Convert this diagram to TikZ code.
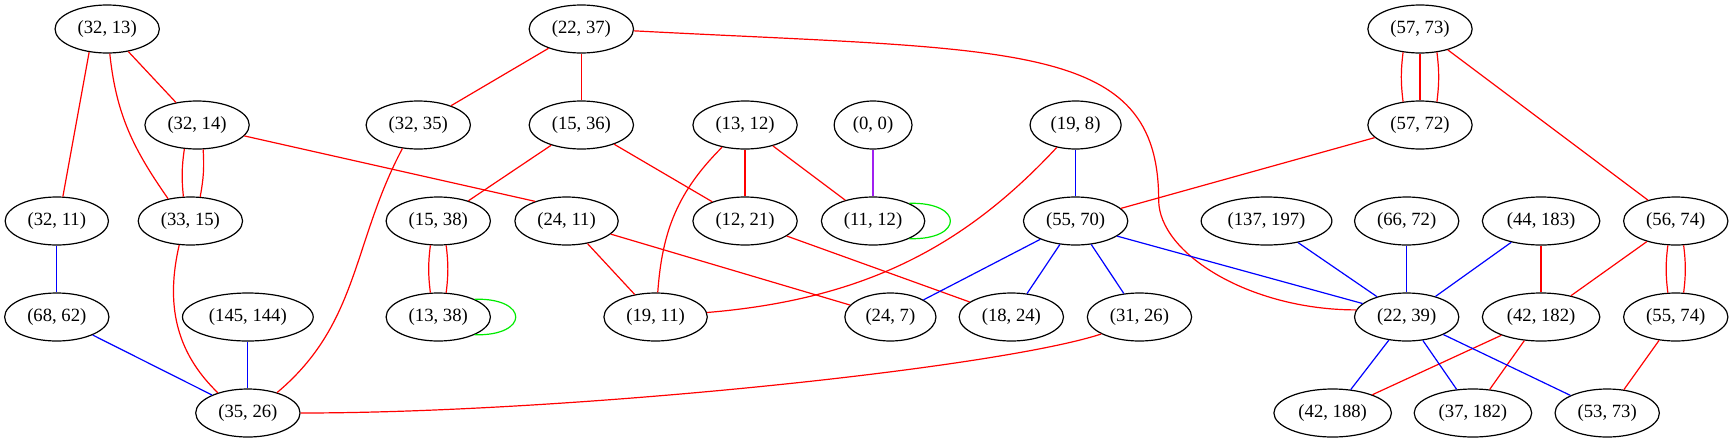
\documentclass[tikz,border=0pt]{standalone}
\usepackage{fontspec}
\setmainfont{Liberation Serif}
\usepackage{tikz}
\usetikzlibrary{shapes.geometric}
\usepackage{xcolor}
\definecolor{edgepurple}{RGB}{160,32,240}
\definecolor{loopgreen}{RGB}{0,235,0}

\begin{document}
\begin{tikzpicture}[x=1pt,y=1pt]
		\tikzstyle{vertex} = [ellipse, draw, line width=0.9pt, inner xsep=5.5pt, inner ysep=2pt, minimum height=36pt, font=\fontsize{14}{16}\selectfont]
		\tikzstyle{rline} = [draw, red, line width=0.9pt]
		\tikzstyle{bline} = [draw, blue, line width=0.9pt]
		\tikzstyle{pline} = [draw, edgepurple, line width=0.9pt]
		\tikzstyle{gline} = [draw, loopgreen, line width=0.9pt]
		
		\useasboundingbox (0,0) rectangle (1299.75,-332.25);
		
		% Row 1
		\node [vertex] (a3213) at (80.4,-21.75) {(32, 13)};
		\node [vertex] (a2237) at (436,-21.75) {(22, 37)};
		\node [vertex] (a5773) at (1065,-21.75) {(57, 73)};
		
		% Row 2
		\node [vertex] (a3214) at (147.8,-93.75) {(32, 14)};
		\node [vertex] (a3235) at (313.7,-93.75) {(32, 35)};
		\node [vertex] (a1536) at (436,-93.75) {(15, 36)};
		\node [vertex] (a1312) at (558.8,-93.75) {(13, 12)};
		\node [vertex] (a00) at (654.8,-93.75) {(0, 0)};
		\node [vertex] (a198) at (806.7,-93.75) {(19, 8)};
		\node [vertex] (a5772) at (1065,-93.75) {(57, 72)};
		
		% Row 3
		\node [vertex] (a3211) at (42.6,-165.75) {(32, 11)};
		\node [vertex] (a3315) at (142.8,-165.75) {(33, 15)};
		\node [vertex] (a1538) at (328.7,-165.75) {(15, 38)};
		\node [vertex] (a2411) at (424.9,-165.75) {(24, 11)};
		\node [vertex] (a1221) at (558.8,-165.75) {(12, 21)};
		\node [vertex] (a1112) at (654.8,-165.75) {(11, 12)};
		\node [vertex] (a5570) at (806.7,-165.75) {(55, 70)};
		\node [vertex] (a137197) at (949.9,-165.75) {(137, 197)};
		\node [vertex] (a6672) at (1055,-165.75) {(66, 72)};
		\node [vertex] (a44183) at (1155.8,-165.75) {(44, 183)};
		\node [vertex] (a5674) at (1256.8,-165.75) {(56, 74)};
		
		% Row 4
		\node [vertex] (a6862) at (42.6,-237.75) {(68, 62)};
		\node [vertex] (a145144) at (185.9,-237.75) {(145, 144)};
		\node [vertex] (a1338) at (328.7,-237.75) {(13, 38)};
		\node [vertex] (a1911) at (491.7,-237.75) {(19, 11)};
		\node [vertex] (a247) at (667.8,-237.75) {(24, 7)};
		\node [vertex] (a1824) at (758.5,-237.75) {(18, 24)};
		\node [vertex] (a3126) at (854.6,-237.75) {(31, 26)};
		\node [vertex] (a2239) at (1055,-237.75) {(22, 39)};
		\node [vertex] (a42182) at (1155.8,-237.75) {(42, 182)};
		\node [vertex] (a5574) at (1256.8,-237.75) {(55, 74)};
		
		% Row 5
		\node [vertex] (a3526) at (185.9,-309.75) {(35, 26)};
		\node [vertex] (a42188) at (999.5,-309.75) {(42, 188)};
		\node [vertex] (a37182) at (1104.7,-309.75) {(37, 182)};
		\node [vertex] (a5373) at (1205.4,-309.75) {(53, 73)};
		
		% red edges
		\draw [rline] (a3213.232) -- (a3211.76);
		\draw [rline] (a3213) -- (a3214);
		\draw [rline] (a3213.-84) to[out=-84,in=125] (a3315.135);
		\draw [rline] (a3214.242) to[bend right=7] (a3315.106);
		\draw [rline] (a3214.284) to[bend left=7] (a3315.68);
		\draw [rline] (a3214.-13) -- (a2411.148);
		\draw [rline] (a2237) -- (a3235);
		\draw [rline] (a2237) -- (a1536);
		\coordinate (k2237) at (869,-150);
		\draw [rline] (a2237.-2) .. controls +(286,-15) and +(0,120) .. (k2237) .. controls +(0,-40) and +(-80,0) .. (a2239.172);
		\draw [rline] (a3235.236) to[out=-118,in=40] (a3526.35);
		\draw [rline] (a1536) -- (a1538);
		\draw [rline] (a1536) -- (a1221);
		\draw [rline] (a1538.252) to[bend right=7] (a1338.108);
		\draw [rline] (a1538.288) to[bend left=7] (a1338.72);
		\draw [rline] (a3315.245) to[out=-103,in=136] (a3526.146);
		\draw [rline] (a1312) -- (a1221);
		\draw [rline] (a1312) -- (a1112);
		\draw [rline] (a1312.224) to[out=-135,in=86] (a1911.85);
		\draw [rline] (a2411) -- (a1911);
		\draw [rline] (a2411) -- (a247);
		\draw [rline] (a1221) -- (a1824);
		\draw [rline] (a198.230) .. controls +(-68,-73) and +(120,10) .. (a1911.5);
		\draw [rline] (a5772) -- (a5570);
		\draw [rline] (a5773.234) to[bend right=7] (a5772.126);
		\draw [rline] (a5773) -- (a5772);
		\draw [rline] (a5773.306) to[bend left=7] (a5772.54);
		\draw [rline] (a5773) -- (a5674);
		\draw [rline] (a3126.204) .. controls +(-80,-26) and +(200,0) .. (a3526.east);
		\draw [rline] (a44183) -- (a42182);
		\draw [rline] (a5674) -- (a42182);
		\draw [rline] (a5674.252) to[bend right=7] (a5574.108);
		\draw [rline] (a5674.288) to[bend left=7] (a5574.72);
		\draw [rline] (a5574) -- (a5373);
		\draw [rline] (a42182) -- (a42188);
		\draw [rline] (a42182) -- (a37182);
		
		% blue edges
		\draw [bline] (a3211) -- (a6862);
		\draw [bline] (a6862) -- (a3526);
		\draw [bline] (a145144) -- (a3526);
		\draw [bline] (a198) -- (a5570);
		\draw [bline] (a5570) -- (a247);
		\draw [bline] (a5570) -- (a1824);
		\draw [bline] (a5570) -- (a3126);
		\draw [bline] (a5570.-20) -- (a2239.163);
		\draw [bline] (a137197) -- (a2239);
		\draw [bline] (a6672) -- (a2239);
		\draw [bline] (a44183) -- (a2239);
		\draw [bline] (a2239) -- (a42188);
		\draw [bline] (a2239) -- (a37182);
		\draw [bline] (a2239) -- (a5373);
		
		% other edges and loops
		\draw [pline] (a00) -- (a1112);
		\draw [gline] (a1112.26) .. controls +(41,1) and +(41,-1) .. (a1112.-26);
		\draw [gline] (a1338.26) .. controls +(41,1) and +(41,-1) .. (a1338.-26);
		
\end{tikzpicture}
\end{document}
